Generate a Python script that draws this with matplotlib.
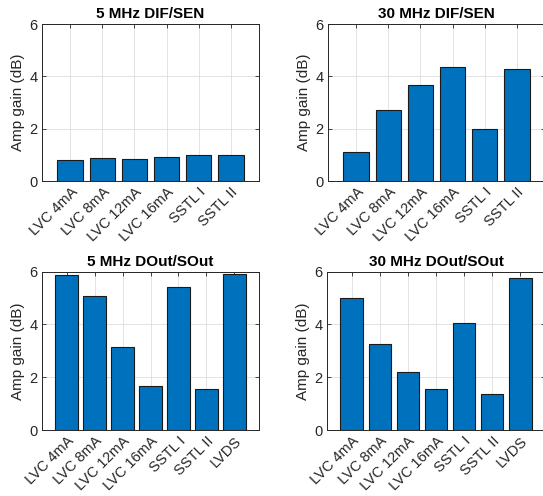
import matplotlib
matplotlib.use("Agg")
import matplotlib.pyplot as plt
import numpy as np

plt.rcParams['font.family'] = ['Liberation Sans', 'DejaVu Sans']

cats_dif = ["LVC 4mA", "LVC 8mA", "LVC 12mA", "LVC 16mA", "SSTL I", "SSTL II"]
cats_dout = ["LVC 4mA", "LVC 8mA", "LVC 12mA", "LVC 16mA", "SSTL I", "SSTL II", "LVDS"]

gain_5_dif = [0.80, 0.89, 0.83, 0.90, 1.01, 0.98]
gain_30_dif = [1.11, 2.73, 3.66, 4.34, 1.99, 4.27]
gain_5_dout = [5.86, 5.07, 3.13, 1.68, 5.42, 1.54, 5.92]
gain_30_dout = [5.01, 3.27, 2.19, 1.57, 4.04, 1.35, 5.78]

titles = ["5 MHz DIF/SEN", "30 MHz DIF/SEN", "5 MHz DOut/SOut", "30 MHz DOut/SOut"]

W, H = 543, 496
fig = plt.figure(figsize=(W/100, H/100), dpi=100)

axcol = (0.15, 0.15, 0.15)
blue = "#0072BD"

panels = [
    (cats_dif, gain_5_dif, titles[0], [42/W, 1-181/H, 217/W, 157/H]),
    (cats_dif, gain_30_dif, titles[1], [328/W, 1-181/H, 217/W, 157/H]),
    (cats_dout, gain_5_dout, titles[2], [42/W, 1-430/H, 217/W, 158.3/H]),
    (cats_dout, gain_30_dout, titles[3], [327/W, 1-430/H, 218/W, 158.3/H]),
]

for cats, vals, title, pos in panels:
    ax = fig.add_axes(pos)
    x = np.arange(1, len(cats)+1)
    ax.bar(x, vals, width=0.8, color=blue, edgecolor=(0.1, 0.1, 0.1), linewidth=0.8, zorder=3)
    ax.set_xlim(0.12, len(cats)+0.88)
    ax.set_ylim(0, 6)
    ax.set_yticks([0, 2, 4, 6])
    ax.set_xticks(x)
    ax.set_xticklabels(cats, rotation=45, ha='right', rotation_mode='anchor', fontsize=10.5)
    ax.tick_params(axis='y', labelsize=10.5)
    ax.tick_params(direction='in', top=True, right=True, length=3, colors=axcol, width=0.6, pad=3)
    for lab in ax.get_xticklabels() + ax.get_yticklabels():
        lab.set_color(axcol)
    ax.grid(True, color=(0.87, 0.87, 0.87), linewidth=0.6, zorder=0)
    ax.set_axisbelow(True)
    for s in ax.spines.values():
        s.set_color(axcol)
        s.set_linewidth(0.7)
    ax.set_ylabel("Amp gain (dB)", fontsize=11, color=axcol, labelpad=3)
    ax.set_title(title, fontsize=11, fontweight='bold', pad=4)

fig.savefig("out.png", dpi=100)
